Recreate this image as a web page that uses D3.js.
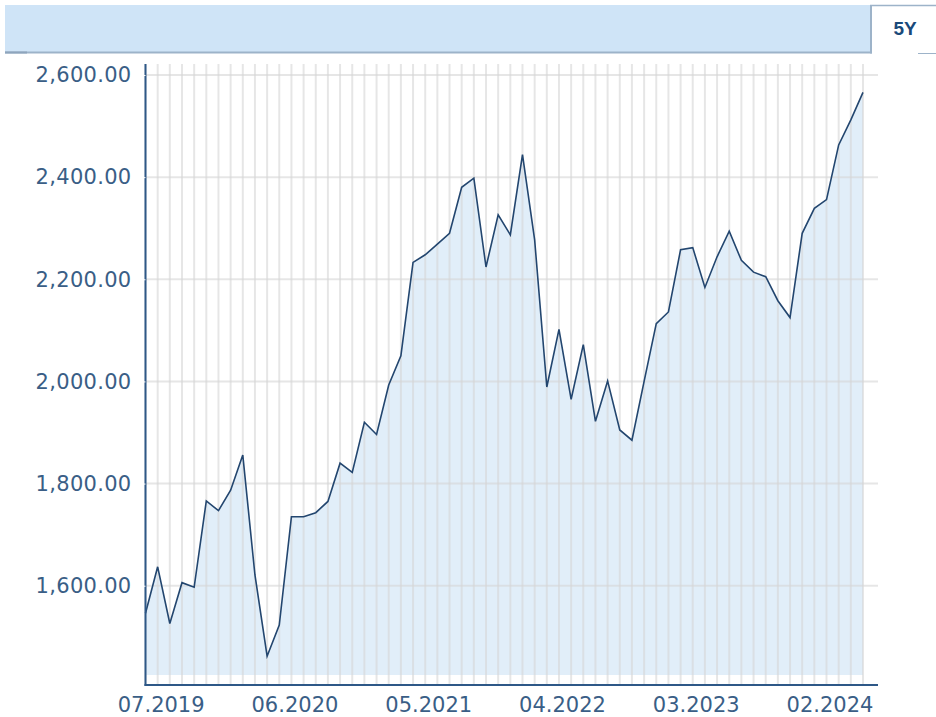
<!DOCTYPE html>
<html>
<head>
<meta charset="utf-8">
<script src="https://cdn.jsdelivr.net/npm/d3@7"></script>
<style>
  body { margin: 0; background: #fff; }
  svg { display: block; }
</style>
</head>
<body>
<div id="chart"></div>
<script>
// monthly closes, 06.2019 .. 05.2024
var months = d3.timeMonth.range(new Date(2019, 5, 1), new Date(2024, 5, 1))
  .map(d3.timeFormat("%m.%Y"));

var values = [
  1546, 1637, 1526, 1606, 1597, 1766, 1747, 1787, 1856, 1621,
  1462, 1523, 1735, 1735, 1743, 1765, 1840, 1822, 1920, 1896,
  1993, 2050, 2233, 2248, 2269, 2290, 2380, 2398, 2224, 2326,
  2287, 2444, 2277, 1989, 2102, 1965, 2072, 1922, 2001, 1905,
  1885, 2000, 2113, 2136, 2258, 2262, 2184, 2244, 2294, 2237,
  2214, 2205, 2158, 2125, 2290, 2339, 2356, 2463, 2512, 2566
];

var xTickLabels = ["07.2019", "06.2020", "05.2021", "04.2022", "03.2023", "02.2024"];
var yTickValues = [1600, 1800, 2000, 2200, 2400, 2600];
var rangeLabel = "5Y";

var width = 936, height = 717;
var plotLeft = 145.5, plotRight = 878, plotTop = 64, plotBottom = 685;
var lastX = 863;

var svg = d3.select("#chart").append("svg")
  .attr("width", width)
  .attr("height", height);

// header bar + tab
var header = svg.append("g");
header.append("rect")
  .attr("x", 5).attr("y", 5)
  .attr("width", 866).attr("height", 47)
  .attr("fill", "#cfe4f7");
header.append("line")
  .attr("x1", 5).attr("x2", 872).attr("y1", 52.5).attr("y2", 52.5)
  .attr("stroke", "#9db3c9").attr("stroke-width", 2);
header.append("line")
  .attr("x1", 5).attr("x2", 27).attr("y1", 52.5).attr("y2", 52.5)
  .attr("stroke", "#8ea5bd").attr("stroke-width", 2);
header.append("line")
  .attr("x1", 871).attr("x2", 871).attr("y1", 5).attr("y2", 53.5)
  .attr("stroke", "#9db3c9").attr("stroke-width", 2);
header.append("line")
  .attr("x1", 870).attr("x2", 936).attr("y1", 5.5).attr("y2", 5.5)
  .attr("stroke", "#9db3c9").attr("stroke-width", 1.5);
header.append("line")
  .attr("x1", 918).attr("x2", 936).attr("y1", 53.5).attr("y2", 53.5)
  .attr("stroke", "#9db3c9").attr("stroke-width", 1);
header.append("text")
  .attr("x", 905).attr("y", 28)
  .attr("dy", "0.35em")
  .attr("text-anchor", "middle")
  .style("font-family", "'Liberation Sans', Arial, sans-serif")
  .style("font-weight", "bold")
  .style("font-size", "19px")
  .attr("fill", "#1a4a7a")
  .text(rangeLabel);

// scales
var x = d3.scalePoint()
  .domain(months)
  .range([plotLeft, lastX]);

var y = d3.scaleLinear()
  .domain([1405.6, 2621.5])
  .range([plotBottom, plotTop]);

var baseline = y(1425);

// area fill
var area = d3.area()
  .x(function(d, i) { return x(months[i]); })
  .y0(baseline)
  .y1(function(d) { return y(d); });

svg.append("path")
  .datum(values)
  .attr("d", area)
  .attr("fill", "#e1eef9");

// grid
var grid = svg.append("g")
  .attr("stroke", "#d6d6d6")
  .attr("stroke-opacity", 0.6)
  .attr("stroke-width", 2);

grid.selectAll("line.v")
  .data(months)
  .enter().append("line")
  .attr("class", "v")
  .attr("x1", function(d) { return x(d); })
  .attr("x2", function(d) { return x(d); })
  .attr("y1", plotTop)
  .attr("y2", plotBottom);

grid.selectAll("line.h")
  .data(yTickValues)
  .enter().append("line")
  .attr("class", "h")
  .attr("x1", plotLeft)
  .attr("x2", plotRight)
  .attr("y1", function(d) { return y(d); })
  .attr("y2", function(d) { return y(d); });

// price line
var line = d3.line()
  .x(function(d, i) { return x(months[i]); })
  .y(function(d) { return y(d); });

svg.append("path")
  .datum(values)
  .attr("d", line)
  .attr("fill", "none")
  .attr("stroke", "#23466f")
  .attr("stroke-width", 1.6)
  .attr("stroke-linejoin", "miter");

// axes
var fontFamily = "'DejaVu Sans', Verdana, sans-serif";
var axisColor = "#2e5887";
var textColor = "#3a5e86";

var yAxis = svg.append("g")
  .attr("transform", "translate(" + plotLeft + ",0)")
  .call(d3.axisLeft(y)
    .tickValues(yTickValues)
    .tickSize(0)
    .tickPadding(14)
    .tickFormat(d3.format(",.2f")));

var xAxis = svg.append("g")
  .attr("transform", "translate(0," + plotBottom + ")")
  .call(d3.axisBottom(x)
    .tickValues(xTickLabels)
    .tickSize(0)
    .tickPadding(12));

[xAxis, yAxis].forEach(function(g) {
  g.select(".domain").remove();
  g.selectAll("text")
    .style("font-family", fontFamily)
    .style("font-size", "21px")
    .attr("fill", textColor);
});
yAxis.selectAll("text").style("letter-spacing", "0.3px");
xAxis.selectAll("text").attr("dx", 3);

svg.append("line")
  .attr("x1", plotLeft).attr("x2", plotLeft)
  .attr("y1", plotTop).attr("y2", plotBottom + 1)
  .attr("stroke", axisColor).attr("stroke-width", 2);
svg.append("line")
  .attr("x1", plotLeft - 1).attr("x2", plotRight)
  .attr("y1", plotBottom).attr("y2", plotBottom)
  .attr("stroke", axisColor).attr("stroke-width", 2);

// small white notches on the value axis
svg.append("g").selectAll("line")
  .data(yTickValues)
  .enter().append("line")
  .attr("x1", plotLeft - 1.5).attr("x2", plotLeft)
  .attr("y1", function(d) { return y(d) + 0.5; })
  .attr("y2", function(d) { return y(d) + 0.5; })
  .attr("stroke", "#fff").attr("stroke-width", 1);
</script>
</body>
</html>
